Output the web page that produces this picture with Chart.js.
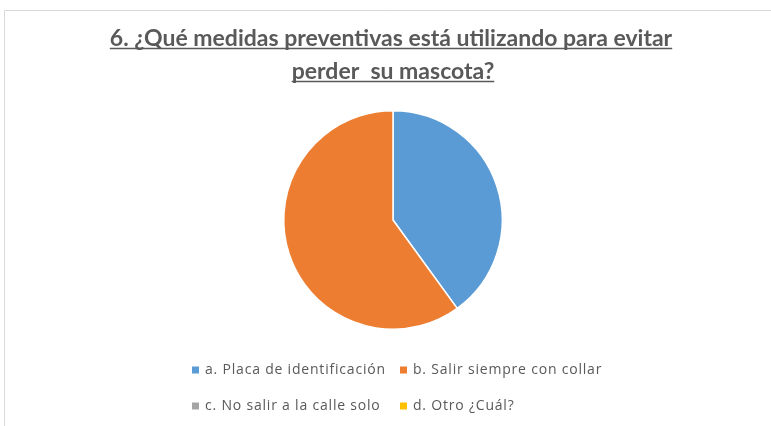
<!DOCTYPE html>
<html>
<head>
<meta charset="utf-8">
<script src="https://cdn.jsdelivr.net/npm/chart.js@4/dist/chart.umd.min.js"></script>
<style>
html,body{margin:0;padding:0;background:#fff;}
#wrap{position:relative;width:771px;height:426px;}
</style>
</head>
<body>
<div id="wrap"><canvas id="c" width="771" height="426"></canvas></div>
<script>
const titleLines = ["6. ¿Qué medidas preventivas está utilizando para evitar", "perder  su mascota?"];
const categories = ["a. Placa de identificación", "b. Salir siempre con collar", "c. No salir a la calle solo", "d. Otro ¿Cuál?"];
const values = [40, 60, 0, 0];
const colors = ["#5B9BD5", "#ED7D31", "#A5A5A5", "#FFC000"];

const decor = {
  id: 'decor',
  afterDraw(chart) {
    const ctx = chart.ctx;
    ctx.save();
    // frame
    ctx.strokeStyle = '#d9d9d9';
    ctx.lineWidth = 1;
    ctx.beginPath();
    ctx.moveTo(4.5, 426);
    ctx.lineTo(4.5, 10.5);
    ctx.lineTo(771, 10.5);
    ctx.stroke();
    // title
    ctx.fillStyle = '#595959';
    ctx.strokeStyle = '#595959';
    ctx.font = "bold 23px Lato";
    ctx.textAlign = 'center';
    ctx.textBaseline = 'alphabetic';
    const tys = [46, 79];
    const cxs = [391, 393];
    titleLines.forEach((t, i) => {
      ctx.fillText(t, cxs[i], tys[i]);
      const w = ctx.measureText(t).width;
      ctx.lineWidth = 1.4;
      ctx.beginPath();
      ctx.moveTo(cxs[i] - w / 2, tys[i] + 2.5);
      ctx.lineTo(cxs[i] + w / 2, tys[i] + 2.5);
      ctx.stroke();
    });
    // legend
    ctx.font = "14px 'Open Sans'";
    ctx.letterSpacing = '0.8px';
    ctx.textAlign = 'left';
    ctx.textBaseline = 'middle';
    const pos = [[192, 370], [400, 370], [192, 406], [400, 406]];
    chart.data.labels.forEach((lab, i) => {
      const [x, y] = pos[i];
      ctx.fillStyle = chart.data.datasets[0].backgroundColor[i];
      ctx.fillRect(x, y - 3.5, 7, 7);
      ctx.fillStyle = '#595959';
      ctx.fillText(lab, x + 13, y);
    });
    ctx.restore();
  }
};

new Chart(document.getElementById('c'), {
  type: 'pie',
  data: {
    labels: categories,
    datasets: [{
      data: values,
      backgroundColor: colors,
      borderColor: '#ffffff',
      borderWidth: 1.5
    }]
  },
  options: {
    responsive: false,
    animation: false,
    layout: { padding: { top: 110, bottom: 96, left: 15, right: 0 } },
    plugins: {
      legend: { display: false },
      title: { display: false },
      tooltip: { enabled: false }
    }
  },
  plugins: [decor]
});
</script>
</body>
</html>
